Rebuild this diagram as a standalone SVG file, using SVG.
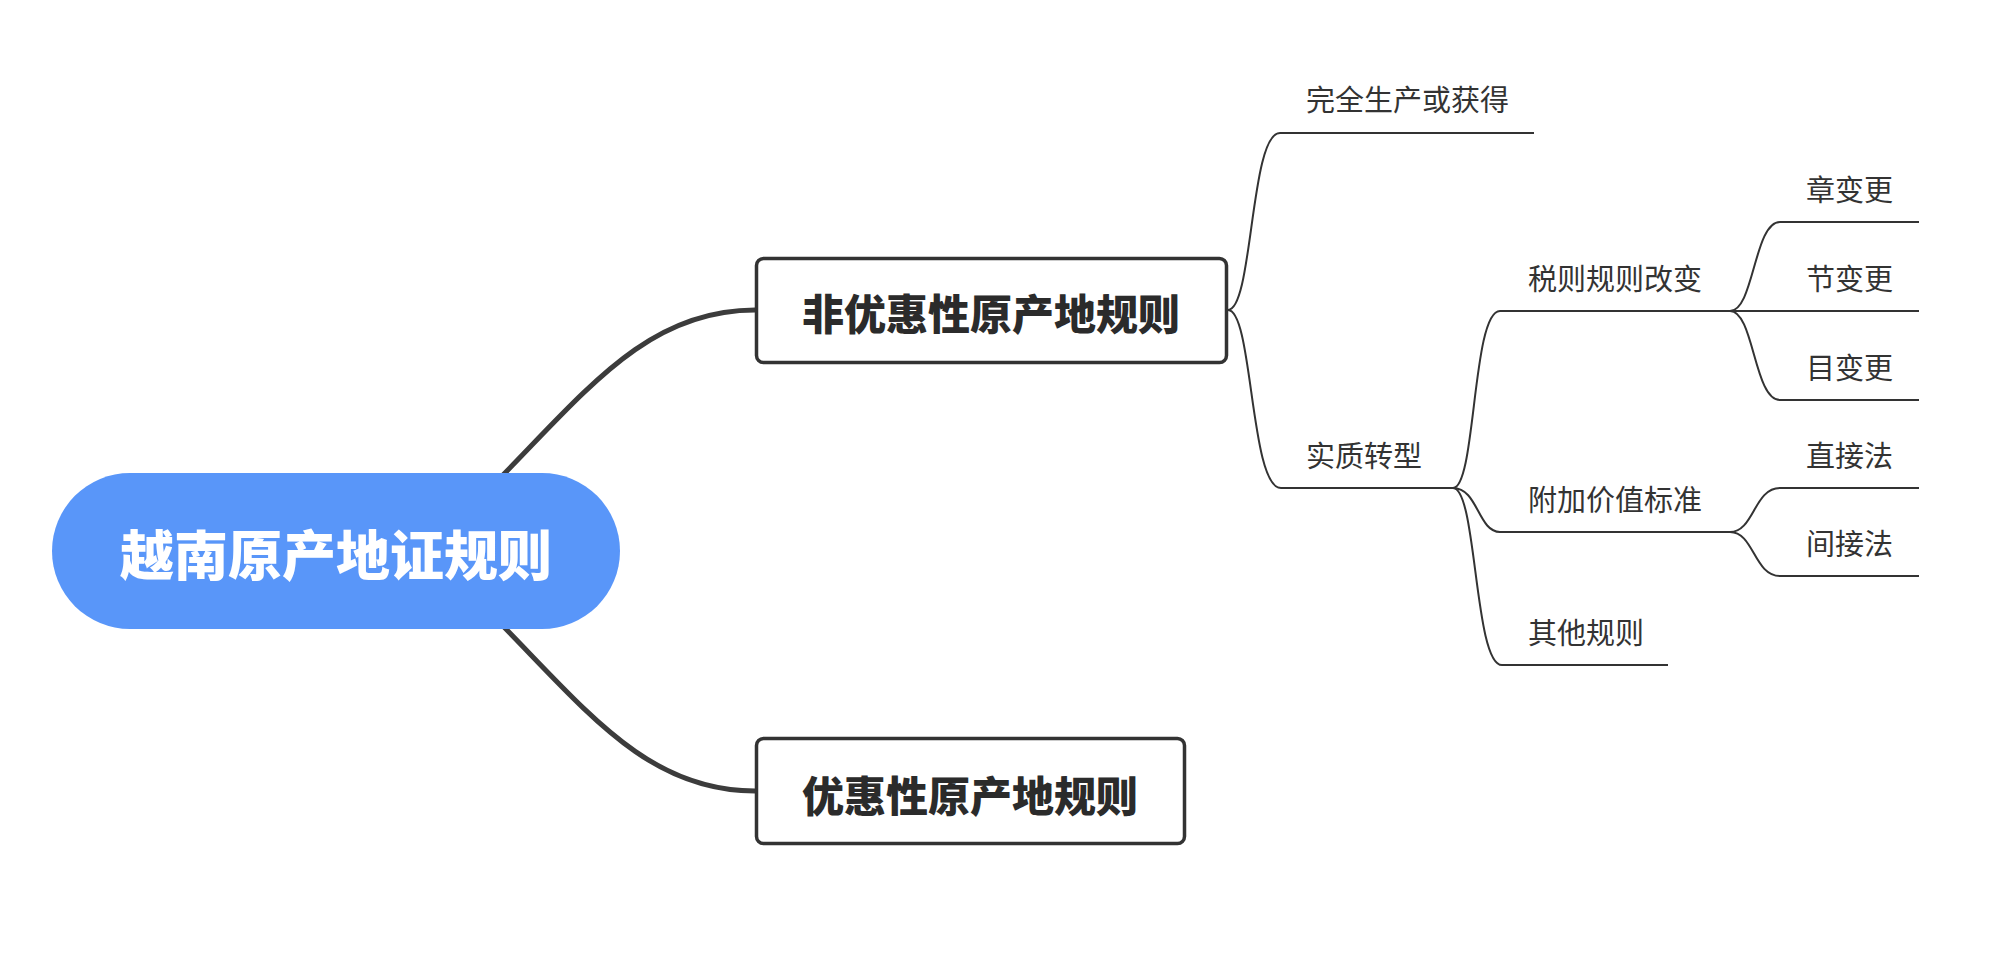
<svg xmlns="http://www.w3.org/2000/svg" width="2000" height="965" viewBox="0 0 2000 965">
  <style>
    .thick { fill: none; stroke: #3c3c3c; stroke-width: 5; stroke-linecap: round; }
    .thin { fill: none; stroke: #333333; stroke-width: 2; }
    .box { fill: #ffffff; stroke: #333333; stroke-width: 3.5; }
    .root { fill: #5996f9; }
    .rt { font-family: "Noto Sans CJK SC", "Noto Sans", sans-serif; font-weight: 900; font-size: 54px; fill: #ffffff; text-anchor: middle; }
    .bt { font-family: "Noto Sans CJK SC", "Noto Sans", sans-serif; font-weight: 900; font-size: 42px; fill: #2b2b2b; text-anchor: middle; }
    .lt { font-family: "Noto Sans CJK SC", "Noto Sans", sans-serif; font-size: 29px; fill: #333333; }
  </style>
  <rect width="2000" height="965" fill="#ffffff"/>
  <g id="connectors">
    <path class="thick" d="M503,475 C590,386 650,310 755,310"/>
    <path class="thick" d="M503,626 C590,715 650,791 755,791"/>
    <path class="thin" d="M1228,310 C1253,310 1250,133 1280,133 L1534,133"/>
    <path class="thin" d="M1228,310 C1253,310 1250,488 1281,488 L1453,488"/>
    <path class="thin" d="M1453,488 C1476,488 1472,311 1500,311 L1730,311"/>
    <path class="thin" d="M1453,488 C1478,488 1478,532 1500,532 L1730,532"/>
    <path class="thin" d="M1453,488 C1477,488 1474,665 1502,665 L1668,665"/>
    <path class="thin" d="M1730,311 C1754,311 1754,222 1780,222 L1919,222"/>
    <path class="thin" d="M1730,311 L1919,311"/>
    <path class="thin" d="M1730,311 C1754,311 1754,400 1780,400 L1919,400"/>
    <path class="thin" d="M1730,532 C1754,532 1754,488 1780,488 L1919,488"/>
    <path class="thin" d="M1730,532 C1754,532 1754,576 1780,576 L1919,576"/>
  </g>
  <g id="root">
    <rect class="root" x="52" y="473" width="568" height="156" rx="78" ry="78"/>
    <text class="rt" x="336" y="576">越南原产地证规则</text>
  </g>
  <g id="node-nonpref">
    <rect class="box" x="756.5" y="258.5" width="470" height="104" rx="7" ry="7"/>
    <text class="bt" x="991" y="330">非优惠性原产地规则</text>
  </g>
  <g id="node-pref">
    <rect class="box" x="756.5" y="738.5" width="428" height="105" rx="7" ry="7"/>
    <text class="bt" x="970" y="812">优惠性原产地规则</text>
  </g>
  <g id="node-wholly">
    <text class="lt" x="1306" y="111">完全生产或获得</text>
  </g>
  <g id="node-substantial">
    <text class="lt" x="1306" y="467">实质转型</text>
  </g>
  <g id="node-tariff">
    <text class="lt" x="1528" y="290">税则规则改变</text>
  </g>
  <g id="node-value">
    <text class="lt" x="1528" y="511">附加价值标准</text>
  </g>
  <g id="node-other">
    <text class="lt" x="1528" y="644">其他规则</text>
  </g>
  <g id="node-chapter">
    <text class="lt" x="1806" y="201">章变更</text>
  </g>
  <g id="node-heading">
    <text class="lt" x="1806" y="290">节变更</text>
  </g>
  <g id="node-subheading">
    <text class="lt" x="1806" y="379">目变更</text>
  </g>
  <g id="node-direct">
    <text class="lt" x="1806" y="467">直接法</text>
  </g>
  <g id="node-indirect">
    <text class="lt" x="1806" y="555">间接法</text>
  </g>
</svg>
